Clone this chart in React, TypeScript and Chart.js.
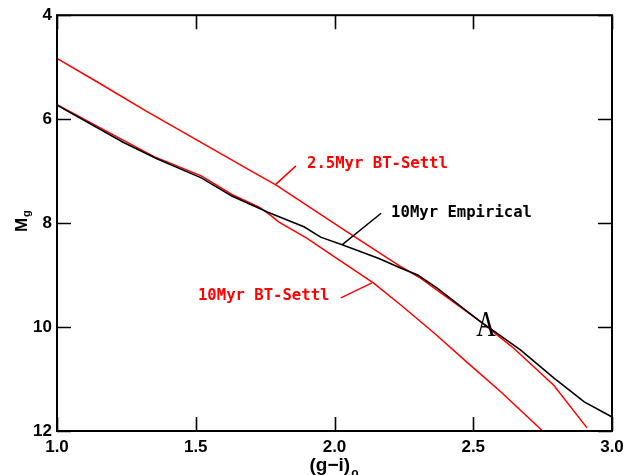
import React, { useEffect, useRef } from "react";
import { Chart, registerables } from "chart.js";

Chart.register(...registerables);

// 10Myr Empirical (black)
const empiricalGI = [1.0, 1.24, 1.36, 1.52, 1.63, 1.71, 1.76, 1.89, 1.95, 2.03, 2.16, 2.24, 2.3, 2.37, 2.52, 2.67, 2.79, 2.9, 3.0];
const empiricalMg = [5.73, 6.45, 6.76, 7.13, 7.48, 7.67, 7.79, 8.07, 8.27, 8.42, 8.68, 8.87, 9.0, 9.25, 9.87, 10.44, 10.98, 11.44, 11.73];

// 2.5Myr BT-Settl (upper red)
const young25GI = [1.0, 1.15, 1.32, 1.53, 1.71, 1.79, 2.04, 2.24, 2.31, 2.52, 2.64, 2.79, 2.91];
const young25Mg = [4.83, 5.3, 5.84, 6.48, 7.03, 7.27, 8.15, 8.84, 9.06, 9.87, 10.38, 11.12, 11.94];

// 10Myr BT-Settl (lower red)
const settl10GI = [1.0, 1.24, 1.35, 1.52, 1.63, 1.73, 1.77, 1.8, 1.9, 2.0, 2.14, 2.24, 2.36, 2.48, 2.6, 2.75];
const settl10Mg = [5.72, 6.41, 6.72, 7.09, 7.45, 7.7, 7.85, 7.98, 8.29, 8.65, 9.15, 9.58, 10.12, 10.69, 11.25, 12.0];

const xTickValues = [1.0, 1.5, 2.0, 2.5, 3.0];
const yTickValues = [4, 6, 8, 10, 12];

// annotation labels: [text, g-i, Mg (vertical centre), colour]
const labelTexts = ["2.5Myr BT-Settl", "10Myr Empirical", "10Myr BT-Settl"];
const labelGI = [1.901, 2.204, 1.508];
const labelMg = [6.86, 7.8, 9.41];
const labelColors = ["#ff0000", "#000000", "#ff0000"];
// pointer lines: from (gi0, mg0) to (gi1, mg1)
const pointerGI0 = [1.789, 2.168, 2.023];
const pointerMg0 = [7.25, 7.81, 9.44];
const pointerGI1 = [1.861, 2.027, 2.135];
const pointerMg1 = [6.9, 8.42, 9.15];
const markText = "A";
const markGI = 2.546;
const markMg = 9.95;

function toPoints(xs: number[], ys: number[]) {
  return xs.map((v, i) => ({ x: v, y: ys[i] }));
}

const decorPlugin = {
  id: "decor",
  afterDatasetsDraw(chart: any) {
    const { ctx, chartArea: a, scales } = chart;
    const x = scales.x;
    const y = scales.y;
    ctx.save();
    // frame
    ctx.strokeStyle = "#000";
    ctx.lineWidth = 2;
    ctx.strokeRect(a.left, a.top, a.right - a.left, a.bottom - a.top);
    // inward ticks
    ctx.lineWidth = 1.6;
    const tl = 14;
    ctx.beginPath();
    for (const v of xTickValues) {
      const px = Math.round(x.getPixelForValue(v)) + 0.5;
      ctx.moveTo(px, a.bottom);
      ctx.lineTo(px, a.bottom - tl);
      ctx.moveTo(px, a.top);
      ctx.lineTo(px, a.top + tl);
    }
    for (const v of yTickValues) {
      const py = Math.round(y.getPixelForValue(v)) + 0.5;
      ctx.moveTo(a.left, py);
      ctx.lineTo(a.left + tl, py);
      ctx.moveTo(a.right, py);
      ctx.lineTo(a.right - tl, py);
    }
    ctx.stroke();

    // pointer lines
    ctx.lineWidth = 1.5;
    for (let i = 0; i < pointerGI0.length; i++) {
      ctx.strokeStyle = labelColors[i];
      ctx.beginPath();
      ctx.moveTo(x.getPixelForValue(pointerGI0[i]), y.getPixelForValue(pointerMg0[i]));
      ctx.lineTo(x.getPixelForValue(pointerGI1[i]), y.getPixelForValue(pointerMg1[i]));
      ctx.stroke();
    }
    // labels
    ctx.font = "bold 15.6px 'DejaVu Sans Mono'";
    ctx.textAlign = "left";
    ctx.textBaseline = "middle";
    for (let i = 0; i < labelTexts.length; i++) {
      ctx.fillStyle = labelColors[i];
      ctx.fillText(labelTexts[i], x.getPixelForValue(labelGI[i]), y.getPixelForValue(labelMg[i]));
    }
    // "A" mark
    ctx.save();
    ctx.translate(x.getPixelForValue(markGI), y.getPixelForValue(markMg));
    ctx.scale(0.75, 1);
    ctx.fillStyle = "#000";
    ctx.font = "36px 'Liberation Serif'";
    ctx.textAlign = "center";
    ctx.textBaseline = "alphabetic";
    ctx.fillText(markText, 0, 12);
    ctx.restore();

    ctx.restore();
  },
  afterDraw(chart: any) {
    const { ctx, chartArea: a } = chart;
    ctx.save();
    ctx.fillStyle = "#000";
    // y title: M_g rotated
    ctx.save();
    ctx.translate(27, (a.top + a.bottom) / 2 + 9);
    ctx.rotate(-Math.PI / 2);
    ctx.textAlign = "left";
    ctx.textBaseline = "alphabetic";
    ctx.font = "bold 17px 'Liberation Sans'";
    ctx.fillText("M", 0, 0);
    const mw = ctx.measureText("M").width;
    ctx.font = "bold 11px 'Liberation Sans'";
    ctx.fillText("g", mw + 1, 3);
    ctx.restore();
    // x title: (g-i)_o
    ctx.textAlign = "left";
    ctx.textBaseline = "alphabetic";
    ctx.font = "bold 19px 'Liberation Sans'";
    const main = "(g\u2212i)";
    const tw = ctx.measureText(main).width;
    const cx = (a.left + a.right) / 2;
    const x0 = cx - 25;
    ctx.fillText(main, x0, 471);
    ctx.font = "bold 12px 'Liberation Sans'";
    ctx.fillText("o", x0 + tw + 1, 477);
    ctx.restore();
  },
};

export default function App() {
  const ref = useRef<HTMLCanvasElement | null>(null);
  useEffect(() => {
    if (!ref.current) return;
    const chart = new Chart(ref.current, {
      type: "line",
      data: {
        datasets: [
          {
            label: "10Myr Empirical",
            data: toPoints(empiricalGI, empiricalMg),
            borderColor: "#000000",
            borderWidth: 1.6,
            pointRadius: 0,
            tension: 0,
            fill: false,
          },
          {
            label: "2.5Myr BT-Settl",
            data: toPoints(young25GI, young25Mg),
            borderColor: "#ff0000",
            borderWidth: 1.5,
            pointRadius: 0,
            tension: 0,
            fill: false,
          },
          {
            label: "10Myr BT-Settl",
            data: toPoints(settl10GI, settl10Mg),
            borderColor: "#ff0000",
            borderWidth: 1.5,
            pointRadius: 0,
            tension: 0,
            fill: false,
          },
        ],
      },
      options: {
        responsive: false,
        animation: false,
        devicePixelRatio: 1,
        layout: { padding: { left: 0, top: 15, right: 22, bottom: 0 } },
        plugins: {
          legend: { display: false },
          tooltip: { enabled: false },
        },
        scales: {
          x: {
            type: "linear",
            position: "bottom",
            min: 1,
            max: 3,
            grid: { display: false, drawTicks: false },
            border: { display: false },
            afterFit: (s: any) => {
              s.height = 44;
            },
            afterBuildTicks: (s: any) => {
              s.ticks = xTickValues.map((v) => ({ value: v }));
            },
            ticks: {
              padding: 6,
              maxRotation: 0,
              autoSkip: false,
              color: "#000",
              font: { family: "'Liberation Sans'", size: 17, weight: "bold" },
              callback: (v: any) => Number(v).toFixed(1),
            },
          },
          y: {
            type: "linear",
            position: "left",
            reverse: true,
            min: 4,
            max: 12,
            grid: { display: false, drawTicks: false },
            border: { display: false },
            afterFit: (s: any) => {
              s.width = 57;
            },
            afterBuildTicks: (s: any) => {
              s.ticks = yTickValues.map((v) => ({ value: v }));
            },
            ticks: {
              padding: 5,
              autoSkip: false,
              color: "#000",
              font: { family: "'Liberation Sans'", size: 17, weight: "bold" },
              callback: (v: any) => String(v),
            },
          },
        },
      },
      plugins: [decorPlugin],
    });
    return () => chart.destroy();
  }, []);
  return (
    <div style={{ position: "absolute", left: 0, top: 0, width: 634, height: 475, background: "#fff" }}>
      <canvas ref={ref} width={634} height={475} style={{ display: "block" }} />
    </div>
  );
}
